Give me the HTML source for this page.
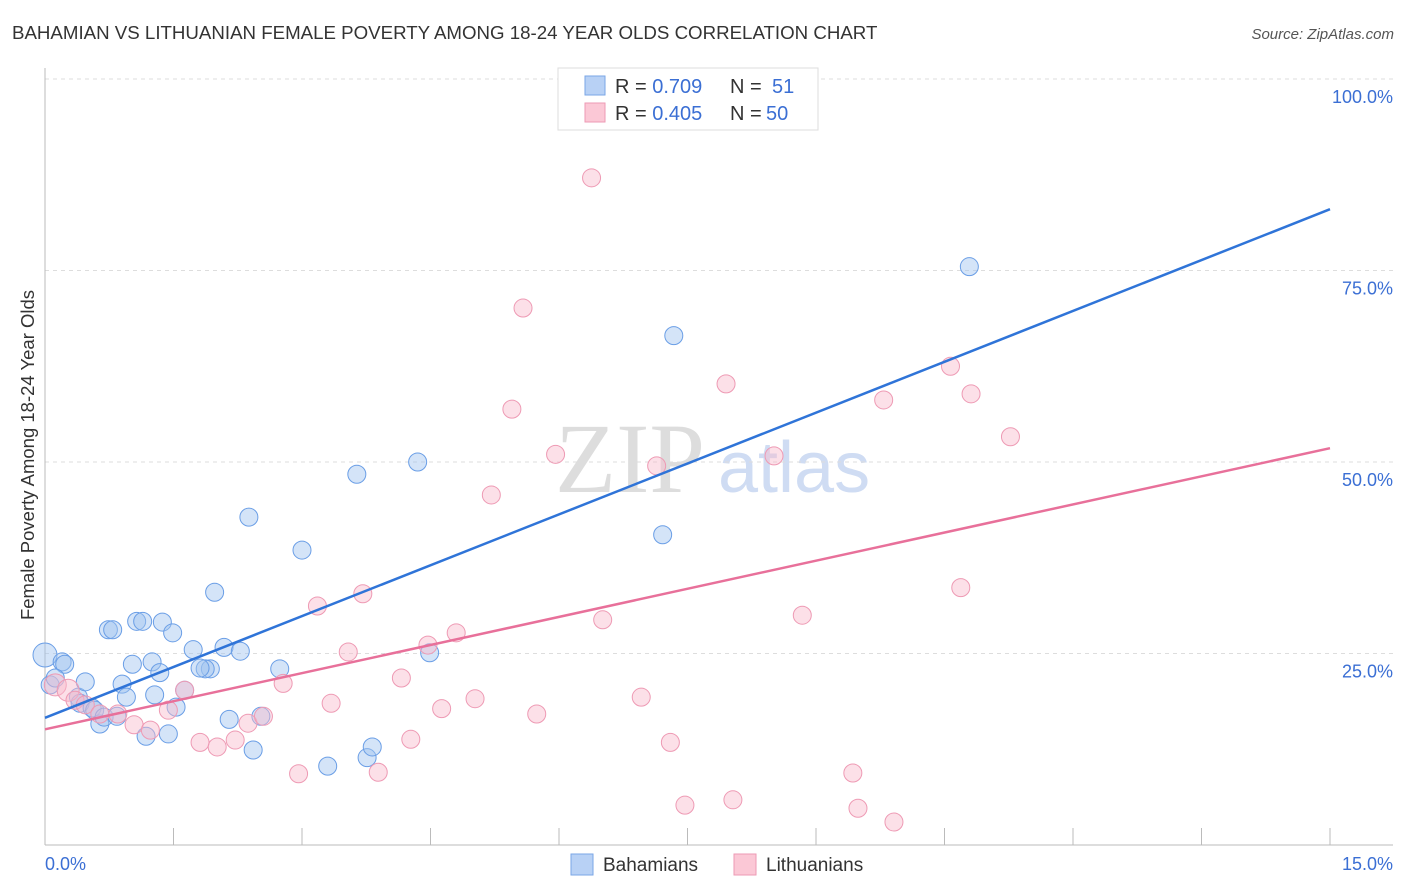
<!DOCTYPE html>
<html><head><meta charset="utf-8"><style>
body{margin:0;background:#fff;font-family:"Liberation Sans",sans-serif;}
#c{position:relative;width:1406px;height:892px;overflow:hidden}
</style></head><body>
<div id="c">
<svg id="s" width="1406" height="892" xmlns="http://www.w3.org/2000/svg" font-family="Liberation Sans, sans-serif">
<text x="12" y="39" font-size="18.7" fill="#333">BAHAMIAN VS LITHUANIAN FEMALE POVERTY AMONG 18-24 YEAR OLDS CORRELATION CHART</text>
<text x="1394" y="39" font-size="15" fill="#555" font-style="italic" text-anchor="end">Source: ZipAtlas.com</text>
<text x="555" y="492" font-size="100" fill="#ddd" font-family="Liberation Serif, serif">ZIP</text>
<text x="718" y="492" font-size="72" fill="#cfdcf3">atlas</text>
<text transform="translate(34,455) rotate(-90)" font-size="18.5" fill="#333" text-anchor="middle">Female Poverty Among 18-24 Year Olds</text>
<g id="grid"></g><g id="pts"></g><g id="lines"></g>
<g>
<rect x="558" y="68" width="260" height="62" fill="#fff" stroke="#ddd"/>
<rect x="585" y="76" width="20" height="19" fill="#b8d1f5" stroke="#7aa6e6"/>
<rect x="585" y="103" width="20" height="19" fill="#fbc8d6" stroke="#ee9ab4"/>
<text x="615" y="93" font-size="20" fill="#333">R = <tspan fill="#3b6fd4">0.709</tspan><tspan x="730">N = </tspan><tspan x="772" fill="#3b6fd4">51</tspan></text>
<text x="615" y="120" font-size="20" fill="#333">R = <tspan fill="#3b6fd4">0.405</tspan><tspan x="730">N = </tspan><tspan x="766" fill="#3b6fd4">50</tspan></text>
</g>
<g>
<rect x="571" y="854" width="22" height="21" fill="#b8d1f5" stroke="#7aa6e6"/>
<text x="603" y="871" font-size="19" fill="#333">Bahamians</text>
<rect x="734" y="854" width="22" height="21" fill="#fbc8d6" stroke="#ee9ab4"/>
<text x="766" y="871" font-size="19" fill="#333">Lithuanians</text>
</g>
</svg></div>
<script>
const blueX=[0,.06,.2,.23,.39,.47,.41,.55,.58,.64,.69,.74,.79,.84,.9,.95,1.02,1.07,1.14,1.18,1.25,1.28,1.34,1.37,1.44,1.49,1.53,1.63,1.73,1.93,1.87,1.98,2.09,2.15,2.28,2.38,2.43,2.52,2.74,3.0,3.3,3.64,3.76,3.82,4.35,4.49,7.21,7.34,10.79,.12,1.81];
const blueY=[24.8,20.9,23.9,23.6,19.3,21.3,18.5,17.9,17.6,15.8,16.7,28.1,28.1,16.8,21.0,19.3,23.6,29.2,29.2,14.2,23.9,19.6,22.5,29.1,14.5,27.7,18.0,20.2,25.5,23.0,23.0,33.0,25.8,16.4,25.3,42.8,12.4,16.8,23.0,38.5,10.3,48.4,11.4,12.8,50.0,25.1,40.5,66.5,75.5,21.8,23.1];
const pinkX=[.12,.27,.35,.47,.64,.85,1.04,1.23,1.44,1.63,1.81,2.01,2.22,2.37,2.55,2.78,2.96,3.18,3.34,3.54,3.71,3.89,4.16,4.27,4.47,4.63,4.8,5.02,5.21,5.45,5.58,5.74,5.96,6.38,6.51,6.96,7.14,7.3,7.47,7.95,8.03,8.51,8.84,9.43,9.49,9.79,9.91,10.57,10.69,10.81,11.27];
const pinkY=[20.9,20.2,18.9,18.3,17.1,17.1,15.7,15.0,17.6,20.2,13.4,12.8,13.7,15.9,16.8,21.1,9.3,31.2,18.5,25.2,32.8,9.5,21.8,13.8,26.1,17.8,27.7,19.1,45.7,56.9,70.1,17.1,51.0,87.1,29.4,19.3,49.5,13.4,5.2,60.2,5.9,50.8,30.0,9.4,4.8,58.1,3.0,62.5,33.6,58.9,53.3];
const blueTrend=[16.6,83.0];
const pinkTrend=[15.1,51.8];
const trendX=[0,15];
const yTicks=[25,50,75,100];
const yTickLabels=["25.0%","50.0%","75.0%","100.0%"];
const xTicks=[0,1.5,3,4.5,6,7.5,9,10.5,12,13.5,15];
const NS="http://www.w3.org/2000/svg";
const sx=v=>45+v/15*1285, sy=v=>845-v/100*766;
function mk(t,a,p){const e=document.createElementNS(NS,t);for(const k in a)e.setAttribute(k,a[k]);p.appendChild(e);return e;}
const g=document.getElementById('grid');
yTicks.forEach((t,i)=>{
 const l=mk('line',{x1:45,x2:1393,y1:sy(t),y2:sy(t),stroke:'#ddd','stroke-dasharray':'4,4'},g);
 
 
 const tx=mk('text',{x:1393,y:sy(t)+24,'font-size':18,fill:'#3b6fd4','text-anchor':'end'},g);
 tx.textContent=yTickLabels[i];
 
 
});
const ax=mk('line',{x1:45,x2:1393,y1:845,y2:845,stroke:'#bbb'},g);


const ay=mk('line',{x1:45,x2:45,y1:68,y2:845,stroke:'#bbb'},g);


xTicks.forEach(t=>{
 const l=mk('line',{x1:sx(t),x2:sx(t),y1:828,y2:845,stroke:'#bbb'},g);
 
 
});
const x0=mk('text',{x:45,y:870,'font-size':18,fill:'#3b6fd4'},g);x0.textContent='0.0%';


const x1=mk('text',{x:1393,y:870,'font-size':18,fill:'#3b6fd4','text-anchor':'end'},g);x1.textContent='15.0%';


const P=document.getElementById('pts');
blueX.forEach((x,i)=>{
 const c=mk('circle',{cx:sx(x),cy:sy(blueY[i]),r:i==0?12:9,fill:'rgba(160,196,240,0.45)',stroke:'#6a9ee6','stroke-width':1},P);
 
 
});
pinkX.forEach((x,i)=>{
 const c=mk('circle',{cx:sx(x),cy:sy(pinkY[i]),r:i<2?11:9,fill:'rgba(248,186,204,0.45)',stroke:'#ee9ab4','stroke-width':1},P);
 
 
});
const L=document.getElementById('lines');
const bl=mk('line',{x1:sx(trendX[0]),y1:sy(blueTrend[0]),x2:sx(trendX[1]),y2:sy(blueTrend[1]),stroke:'#2f74d8','stroke-width':2.5},L);


const pl=mk('line',{x1:sx(trendX[0]),y1:sy(pinkTrend[0]),x2:sx(trendX[1]),y2:sy(pinkTrend[1]),stroke:'#e8709a','stroke-width':2.5},L);


</script>
</body></html>
